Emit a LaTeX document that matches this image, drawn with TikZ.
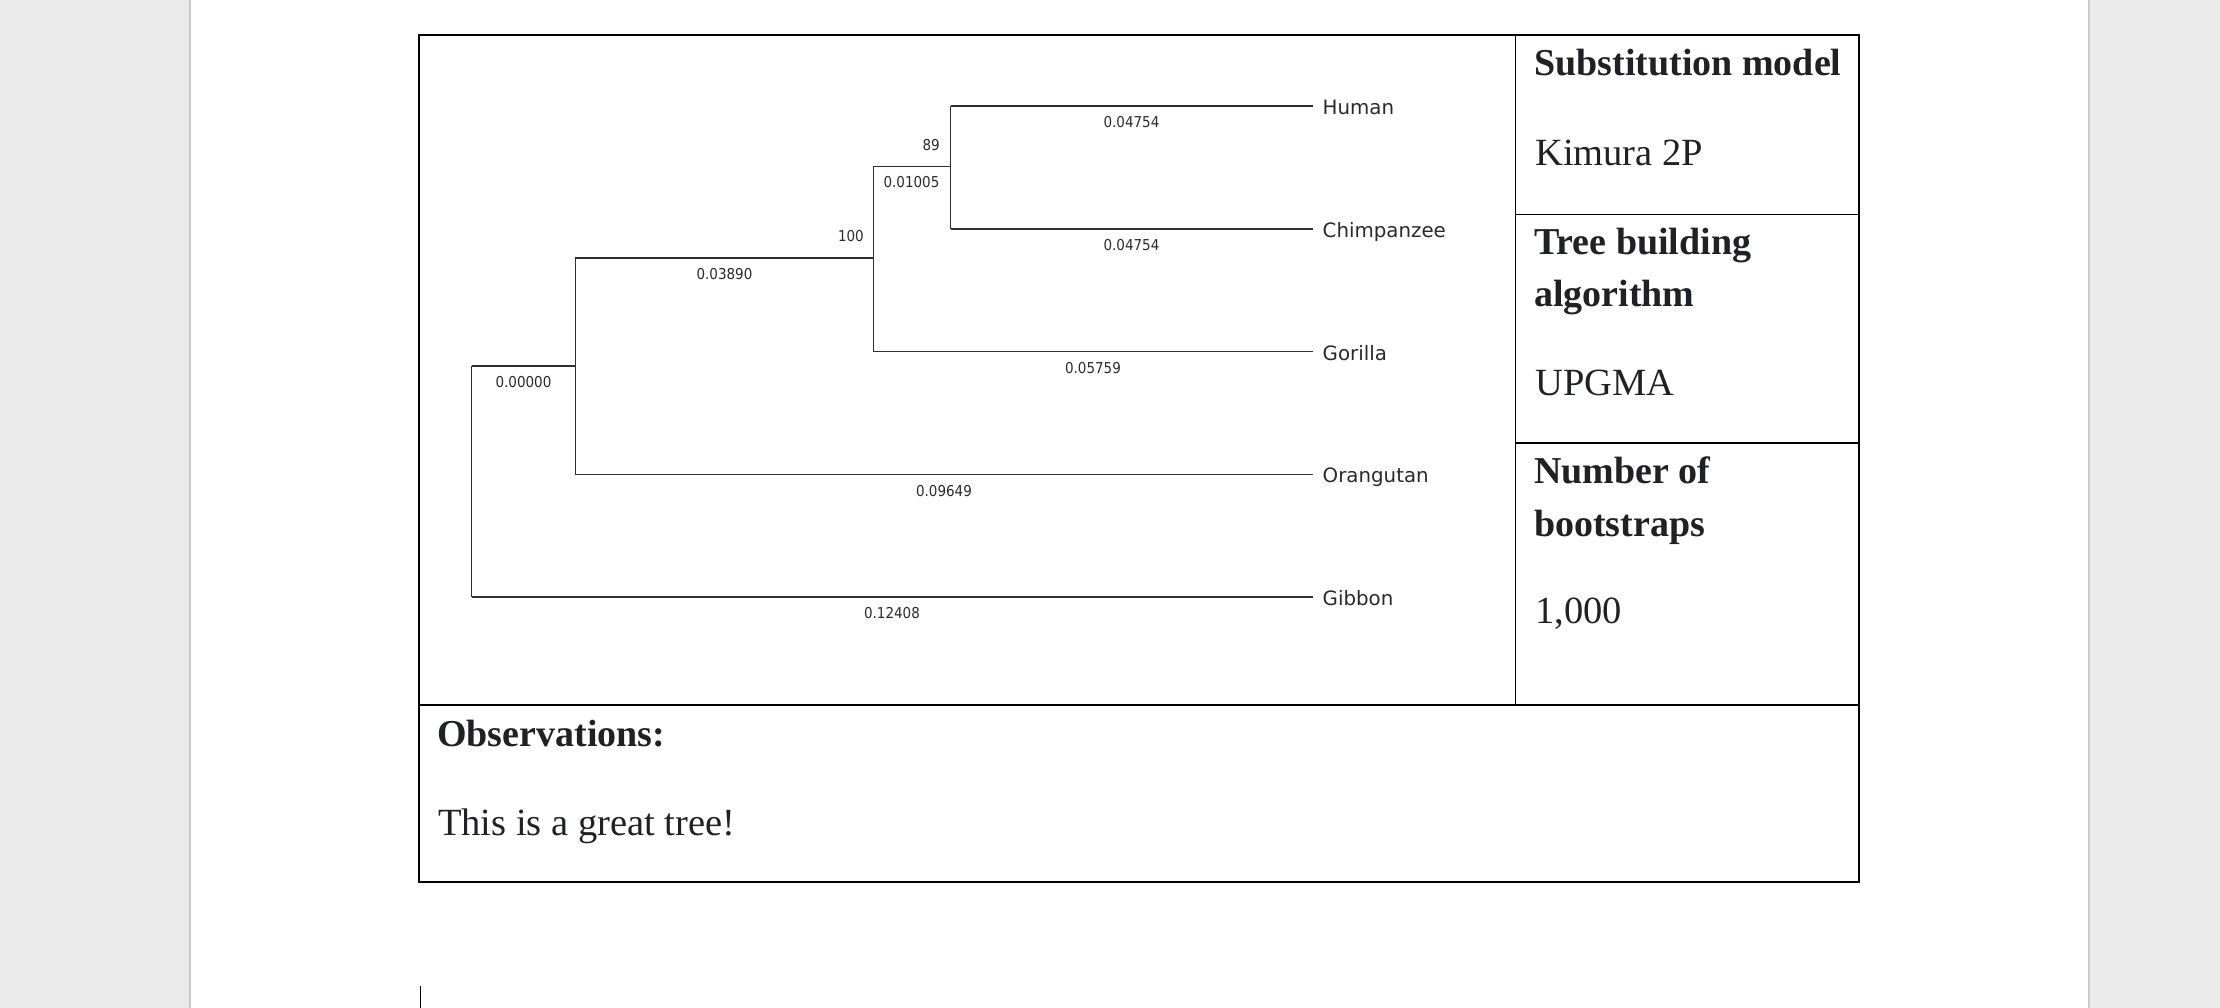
\documentclass[tikz,border=0pt]{standalone}
\usepackage{fontspec}
\setmainfont{Liberation Serif}
\newfontfamily\leaffont{DejaVu Sans}
\newfontfamily\numfont[FakeStretch=0.9]{DejaVu Sans}
\definecolor{pagegray}{HTML}{EBEBEB}
\definecolor{edgegray}{HTML}{C9C9C9}
\definecolor{treeline}{HTML}{303030}
\definecolor{leafcol}{HTML}{2A2A2A}
\definecolor{doctext}{HTML}{202124}
\begin{document}
\begin{tikzpicture}[x=1pt,y=-1pt,
  branch/.style={draw=treeline, line width=1.2pt},
  gridline/.style={draw=black, line width=1.6pt},
  leaf/.style={anchor=base west, inner sep=0pt, font=\leaffont\fontsize{19.8}{22}\selectfont, text=leafcol},
  blen/.style={anchor=center, inner sep=0pt, font=\numfont\fontsize{15}{17}\selectfont, text=leafcol},
  boot/.style={anchor=base east, inner sep=0pt, font=\numfont\fontsize{15}{17}\selectfont, text=leafcol},
  head/.style={anchor=base west, inner sep=0pt, font=\bfseries\fontsize{38}{44}\selectfont, text=doctext},
  val/.style={anchor=base west, inner sep=0pt, font=\fontsize{38.5}{44}\selectfont, text=doctext},
]
\useasboundingbox (0,0) rectangle (2220,1008);
% page background
\fill[pagegray] (0,0) rectangle (2220,1008);
\fill[white] (191,0) rectangle (2088,1008);
\draw[edgegray, line width=2pt] (190,0) -- (190,1008);
\draw[edgegray, line width=2pt] (2089,0) -- (2089,1008);

% table frame coordinates
\coordinate (tl) at (419,35);
\coordinate (tr) at (1859,35);
\coordinate (bl) at (419,882);
\coordinate (br) at (1859,882);
\coordinate (ml) at (419,705);
\coordinate (mr) at (1859,705);
\coordinate (dt) at (1515.5,35);
\coordinate (db) at (1515.5,705);
\coordinate (h1l) at (1515.5,214.5);
\coordinate (h1r) at (1859,214.5);
\coordinate (h2l) at (1515.5,443);
\coordinate (h2r) at (1859,443);
\draw[gridline] (tl) -- (tr) -- (br) -- (bl) -- cycle;
\draw[gridline] (ml) -- (mr);
\draw[gridline] (dt) -- (db);
\draw[gridline] (h1l) -- (h1r);
\draw[gridline] (h2l) -- (h2r);

% tree coordinates
\coordinate (lHuman) at (1312.5,106);
\coordinate (lChimp) at (1312.5,229);
\coordinate (lGorilla) at (1312.5,351.7);
\coordinate (lOrang) at (1312.5,474.5);
\coordinate (lGibbon) at (1312.5,597);
\coordinate (n3t) at (950.5,106);
\coordinate (n3b) at (950.5,229);
\coordinate (n3) at (950.5,166.5);
\coordinate (n2t) at (873.5,166.5);
\coordinate (n2b) at (873.5,351.7);
\coordinate (n2) at (873.5,258);
\coordinate (n1t) at (575.4,258);
\coordinate (n1b) at (575.4,474.5);
\coordinate (n1) at (575.4,366);
\coordinate (rt) at (471.6,366);
\coordinate (rb) at (471.6,597);

\draw[branch] (n3t) -- (lHuman);
\draw[branch] (n3b) -- (lChimp);
\draw[branch] (n3t) -- (n3b);
\draw[branch] (n2t) -- (n3);
\draw[branch] (n2t) -- (n2b);
\draw[branch] (n2b) -- (lGorilla);
\draw[branch] (n1t) -- (n2);
\draw[branch] (n1t) -- (n1b);
\draw[branch] (n1b) -- (lOrang);
\draw[branch] (rt) -- (n1);
\draw[branch] (rt) -- (rb);
\draw[branch] (rb) -- (lGibbon);

% leaf names
\node[leaf] (tHuman) at (1322.5,114.3) {Human};
\node[leaf] (tChimp) at (1322.5,237.3) {Chimpanzee};
\node[leaf] (tGorilla) at (1322.5,360) {Gorilla};
\node[leaf] (tOrang) at (1322.5,482.8) {Orangutan};
\node[leaf] (tGibbon) at (1322.5,605.3) {Gibbon};

% branch lengths
\node[blen] (bHuman) at (1131.5,122.3) {0.04754};
\node[blen] (bChimp) at (1131.5,245.3) {0.04754};
\node[blen] (bn3) at (911.5,182.5) {0.01005};
\node[blen] (bn2) at (724.5,274.5) {0.03890};
\node[blen] (bGorilla) at (1093,367.8) {0.05759};
\node[blen] (bn1) at (523.5,382.2) {0.00000};
\node[blen] (bOrang) at (944,490.8) {0.09649};
\node[blen] (bGibbon) at (892,613.3) {0.12408};

% bootstrap values
\node[boot] (s89) at (940,150.3) {89};
\node[boot] (s100) at (864,241.8) {100};

% right column
\node[head] (hSub) at (1534,76) {Substitution model};
\node[val] (vSub) at (1535,165.7) {Kimura 2P};
\node[head] (hTree1) at (1534,255) {Tree building};
\node[head] (hTree2) at (1534,306.7) {algorithm};
\node[val] (vTree) at (1535,395.7) {UPGMA};
\node[head] (hNum1) at (1534,483.3) {Number of};
\node[head] (hNum2) at (1534,536) {bootstraps};
\node[val] (vNum) at (1535,623.3) {1,000};

% observations
\node[head] (hObs) at (437,746) {Observations:};
\node[val] (vObs) at (438,835.7) {This is a great tree!};

% text cursor
\coordinate (cTop) at (420.7,986);
\coordinate (cBot) at (420.7,1008);
\draw[black, line width=1.5pt] (cTop) -- (cBot);
\end{tikzpicture}
\end{document}
